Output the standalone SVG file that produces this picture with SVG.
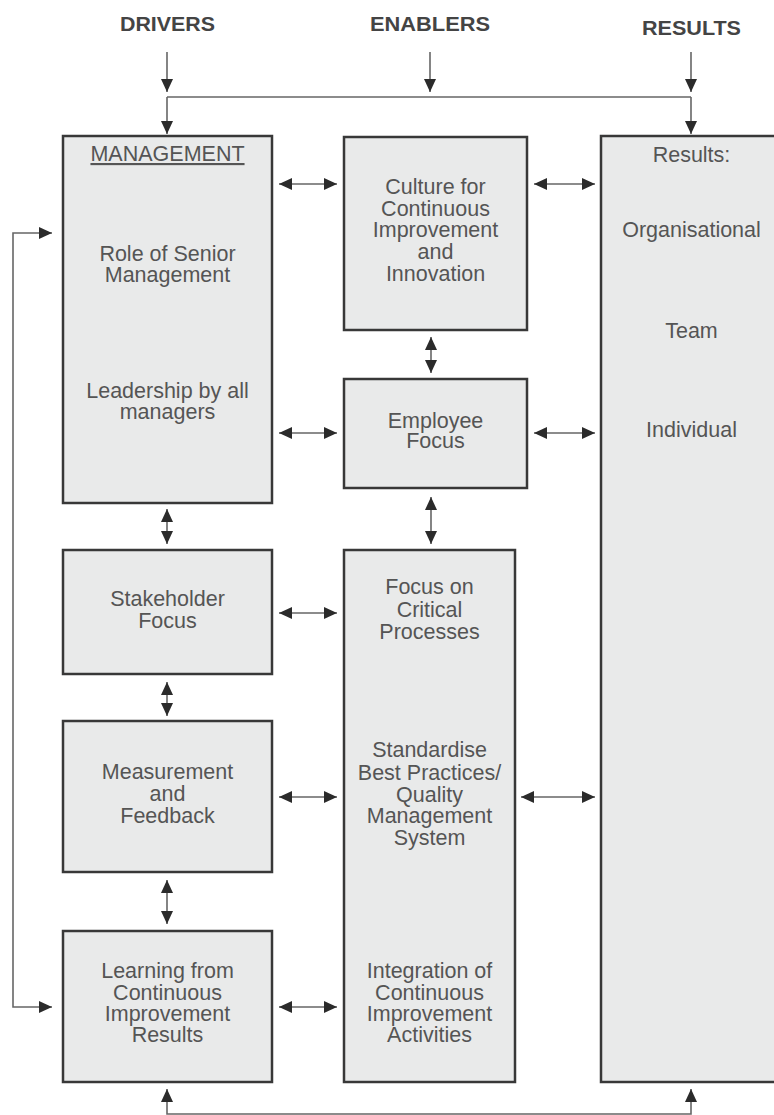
<svg xmlns="http://www.w3.org/2000/svg" width="774" height="1115" viewBox="0 0 774 1115">
  <style>
    .box { fill: #e9eaea; stroke: #383838; stroke-width: 2.5; }
    .lbl { font-family: "Liberation Sans", Arial, sans-serif; font-size: 21.5px; fill: #555; text-anchor: middle; }
    .hdr { font-family: "Liberation Sans", Arial, sans-serif; font-size: 21px; font-weight: bold; fill: #444; }
    .link { fill: none; stroke: #666; stroke-width: 1.6; }
    .dbl { marker-start: url(#head); marker-end: url(#head); }
    .one { marker-end: url(#head); }
  </style>
  <defs>
    <marker id="head" markerUnits="userSpaceOnUse" markerWidth="14" markerHeight="12" refX="13" refY="6" orient="auto-start-reverse">
      <path d="M0,0 L13,6 L0,12 Z" fill="#2b2b2b"/>
    </marker>
  </defs>

  <rect width="774" height="1115" fill="#ffffff"/>

  <!-- column headings -->
  <g id="headings">
    <text class="hdr" x="120" y="31" textLength="95" lengthAdjust="spacingAndGlyphs">DRIVERS</text>
    <text class="hdr" x="370" y="31" textLength="120" lengthAdjust="spacingAndGlyphs">ENABLERS</text>
    <text class="hdr" x="642" y="35" textLength="99" lengthAdjust="spacingAndGlyphs">RESULTS</text>
  </g>

  <!-- connectors -->
  <g id="connectors">
    <line class="link one" x1="167" y1="52" x2="167" y2="92"/>
    <line class="link one" x1="430" y1="52" x2="430" y2="92"/>
    <line class="link one" x1="691" y1="52" x2="691" y2="92"/>
    <line class="link" x1="167" y1="97" x2="691" y2="97" stroke-width="2.2"/>
    <line class="link one" x1="167" y1="97" x2="167" y2="134"/>
    <line class="link one" x1="691" y1="97" x2="691" y2="134"/>

    <!-- drivers <-> enablers -->
    <line class="link dbl" x1="279" y1="184" x2="337" y2="184"/>
    <line class="link dbl" x1="279" y1="433" x2="337" y2="433"/>
    <line class="link dbl" x1="279" y1="613" x2="337" y2="613"/>
    <line class="link dbl" x1="279" y1="797" x2="337" y2="797"/>
    <line class="link dbl" x1="279" y1="1007" x2="337" y2="1007"/>

    <!-- enablers <-> results -->
    <line class="link dbl" x1="534" y1="184" x2="595" y2="184"/>
    <line class="link dbl" x1="534" y1="433" x2="595" y2="433"/>
    <line class="link dbl" x1="521" y1="797" x2="595" y2="797"/>

    <!-- vertical links within columns -->
    <line class="link dbl" x1="167" y1="509" x2="167" y2="544"/>
    <line class="link dbl" x1="167" y1="682" x2="167" y2="716"/>
    <line class="link dbl" x1="167" y1="880" x2="167" y2="924"/>
    <line class="link dbl" x1="431" y1="337" x2="431" y2="373"/>
    <line class="link dbl" x1="431" y1="497" x2="431" y2="544"/>

    <!-- feedback loops -->
    <path class="link dbl" d="M52,233 H13 V1007 H52"/>
    <path class="link dbl" d="M167,1089 V1114 H691 V1089"/>
  </g>

  <g id="management">
    <rect class="box" x="63" y="136" width="209" height="367"/>
    <text class="lbl" x="167.5" y="161" text-decoration="underline">MANAGEMENT</text>
    <text class="lbl" x="167.5" y="261">Role of Senior</text>
    <text class="lbl" x="167.5" y="282">Management</text>
    <text class="lbl" x="167.5" y="398">Leadership by all</text>
    <text class="lbl" x="167.5" y="419">managers</text>
  </g>

  <g id="culture">
    <rect class="box" x="344" y="137" width="183" height="193"/>
    <text class="lbl" x="435.5" y="194">Culture for</text>
    <text class="lbl" x="435.5" y="216">Continuous</text>
    <text class="lbl" x="435.5" y="237">Improvement</text>
    <text class="lbl" x="435.5" y="259">and</text>
    <text class="lbl" x="435.5" y="281">Innovation</text>
  </g>

  <g id="employee">
    <rect class="box" x="344" y="379" width="183" height="109"/>
    <text class="lbl" x="435.5" y="428">Employee</text>
    <text class="lbl" x="435.5" y="448">Focus</text>
  </g>

  <g id="results">
    <rect class="box" x="601" y="136" width="190" height="946"/>
    <text class="lbl" x="691.5" y="162">Results:</text>
    <text class="lbl" x="691.5" y="237">Organisational</text>
    <text class="lbl" x="691.5" y="338">Team</text>
    <text class="lbl" x="691.5" y="437">Individual</text>
  </g>

  <g id="stakeholder">
    <rect class="box" x="63" y="550" width="209" height="124"/>
    <text class="lbl" x="167.5" y="606">Stakeholder</text>
    <text class="lbl" x="167.5" y="628">Focus</text>
  </g>

  <g id="measurement">
    <rect class="box" x="63" y="721" width="209" height="151"/>
    <text class="lbl" x="167.5" y="779">Measurement</text>
    <text class="lbl" x="167.5" y="801">and</text>
    <text class="lbl" x="167.5" y="823">Feedback</text>
  </g>

  <g id="learning">
    <rect class="box" x="63" y="931" width="209" height="151"/>
    <text class="lbl" x="167.5" y="978">Learning from</text>
    <text class="lbl" x="167.5" y="1000">Continuous</text>
    <text class="lbl" x="167.5" y="1021">Improvement</text>
    <text class="lbl" x="167.5" y="1042">Results</text>
  </g>

  <g id="processes">
    <rect class="box" x="344" y="550" width="171" height="532"/>
    <text class="lbl" x="429.5" y="594">Focus on</text>
    <text class="lbl" x="429.5" y="617">Critical</text>
    <text class="lbl" x="429.5" y="639">Processes</text>
    <text class="lbl" x="429.5" y="757">Standardise</text>
    <text class="lbl" x="429.5" y="780">Best Practices/</text>
    <text class="lbl" x="429.5" y="802">Quality</text>
    <text class="lbl" x="429.5" y="823">Management</text>
    <text class="lbl" x="429.5" y="845">System</text>
    <text class="lbl" x="429.5" y="978">Integration of</text>
    <text class="lbl" x="429.5" y="1000">Continuous</text>
    <text class="lbl" x="429.5" y="1021">Improvement</text>
    <text class="lbl" x="429.5" y="1042">Activities</text>
  </g>
</svg>
